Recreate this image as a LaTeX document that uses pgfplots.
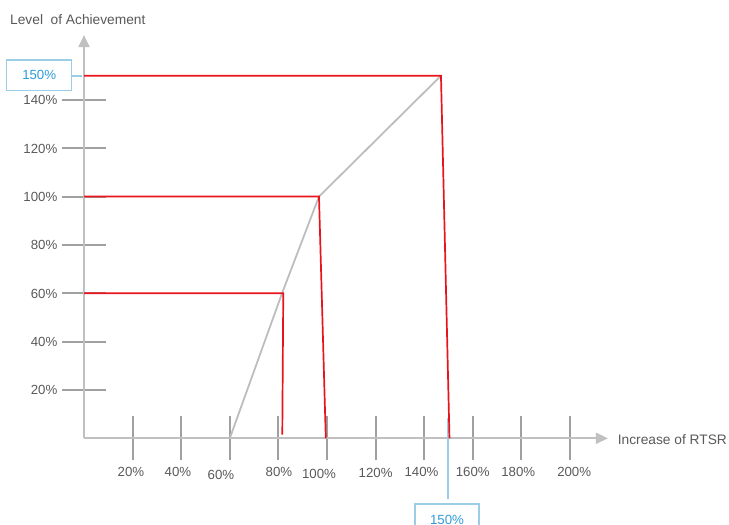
\documentclass[border=0pt]{standalone}
\usepackage{pgfplots}
\pgfplotsset{compat=1.18}
\usepackage{fontspec}
\setmainfont{Liberation Sans}
\usetikzlibrary{arrows.meta}

\definecolor{txt}{HTML}{595959}
\definecolor{axisgray}{HTML}{C0C0C0}
\definecolor{tickgray}{HTML}{A0A0A0}
\definecolor{linegray}{HTML}{BDBDBD}
\definecolor{redline}{HTML}{E8141C}
\definecolor{boxblue}{HTML}{9CCDE6}
\definecolor{txtblue}{HTML}{2E9BD6}

% shift a tick label by dx (right) and dy (up) without changing its anchor
\newcommand{\sh}[3]{\raisebox{#2}{\kern#1\hbox to 0pt{\hss#3\hss}\kern-#1}}

\begin{document}
\begin{tikzpicture}
\begin{axis}[
    width=729bp, height=525bp, scale only axis,
    xmin=-34.57, xmax=265.43,
    ymin=-35.87, ymax=181.32,
    axis lines=middle,
    axis line style={draw=none},
    clip=false,
    xtick={20,40,...,200},
    ytick={20,40,...,140},
    xticklabels={\sh{-1.6bp}{0bp}{20\%}, \sh{-3.2bp}{0bp}{40\%},
      \sh{-8.8bp}{-3bp}{60\%}, \sh{0.6bp}{0bp}{80\%},
      \sh{-8bp}{-1.5bp}{100\%}, \sh{0bp}{-1bp}{120\%},
      \sh{-2.7bp}{0bp}{140\%}, \sh{0bp}{0bp}{160\%},
      \sh{-3.1bp}{0bp}{180\%}, \sh{4.2bp}{0bp}{200\%}},
    yticklabels={20\%,40\%,60\%,80\%,100\%,120\%,140\%},
    tick align=center,
    major tick length=44bp,
    tick style={tickgray, line width=2bp},
    /pgf/number format/assume math mode=true,
    xticklabel style={anchor=base, yshift=-16.7bp, inner sep=0pt},
    yticklabel style={anchor=base east, inner sep=0pt, xshift=-4.5bp, yshift=-5bp},
    ticklabel style={font=\fontsize{13.3}{15}\selectfont, text=txt},
  ]
  % axis lines with arrows
  \draw[axisgray, line width=2bp, -{Triangle[width=11bp,length=12bp]}]
    (axis cs:0,0) -- (axis cs:215.6,0);
  \draw[axisgray, line width=2bp, -{Triangle[width=11bp,length=12bp]}]
    (axis cs:0,0) -- (axis cs:0,166.8);

  % highlighted 150% marks (under the red lines)
  \draw[boxblue, line width=2bp] (axis cs:-5.06,150) -- (axis cs:-0.8,150);
  \draw[boxblue, line width=2bp] (axis cs:149.6,8.4) -- (axis cs:149.6,-25.23);

  % payout curve
  \addplot[linegray, line width=1.8bp] coordinates
    {(60,0) (81.5,60) (96.7,100) (146.9,150)};

  % red guide lines
  \addplot[redline, line width=1.7bp] coordinates
    {(0,60) (82,60) (81.6,1.5)};
  \addplot[redline, line width=1.7bp] coordinates
    {(0,100) (96.7,100) (99.5,0)};
  \addplot[redline, line width=1.7bp] coordinates
    {(0,150) (146.9,150) (150.4,0)};

  \node[draw=boxblue, line width=1.5bp, minimum width=65bp, minimum height=30.7bp,
        inner sep=0pt, text=txtblue, font=\fontsize{13.3}{15}\selectfont]
    at (axis cs:-18.44,150.15) {150\%};
  \node[draw=boxblue, line width=1.5bp, minimum width=64bp, minimum height=30.7bp,
        inner sep=0pt, text=txtblue, font=\fontsize{13.3}{15}\selectfont]
    at (axis cs:149.4,-33.6) {150\%};

  % axis titles
  \node[anchor=base west, inner sep=0pt, text=txt, font=\fontsize{13.8}{16}\selectfont]
    at (axis cs:-30.45,170.98) {Level\ \ of Achievement};
  \node[anchor=base west, inner sep=0pt, text=txt, font=\fontsize{13.8}{16}\selectfont]
    at (axis cs:219.6,-2.77) {Increase of RTSR};
\end{axis}
\pgfresetboundingbox
\path[use as bounding box] (current axis.south west) rectangle (current axis.north east);
\end{tikzpicture}
\end{document}
